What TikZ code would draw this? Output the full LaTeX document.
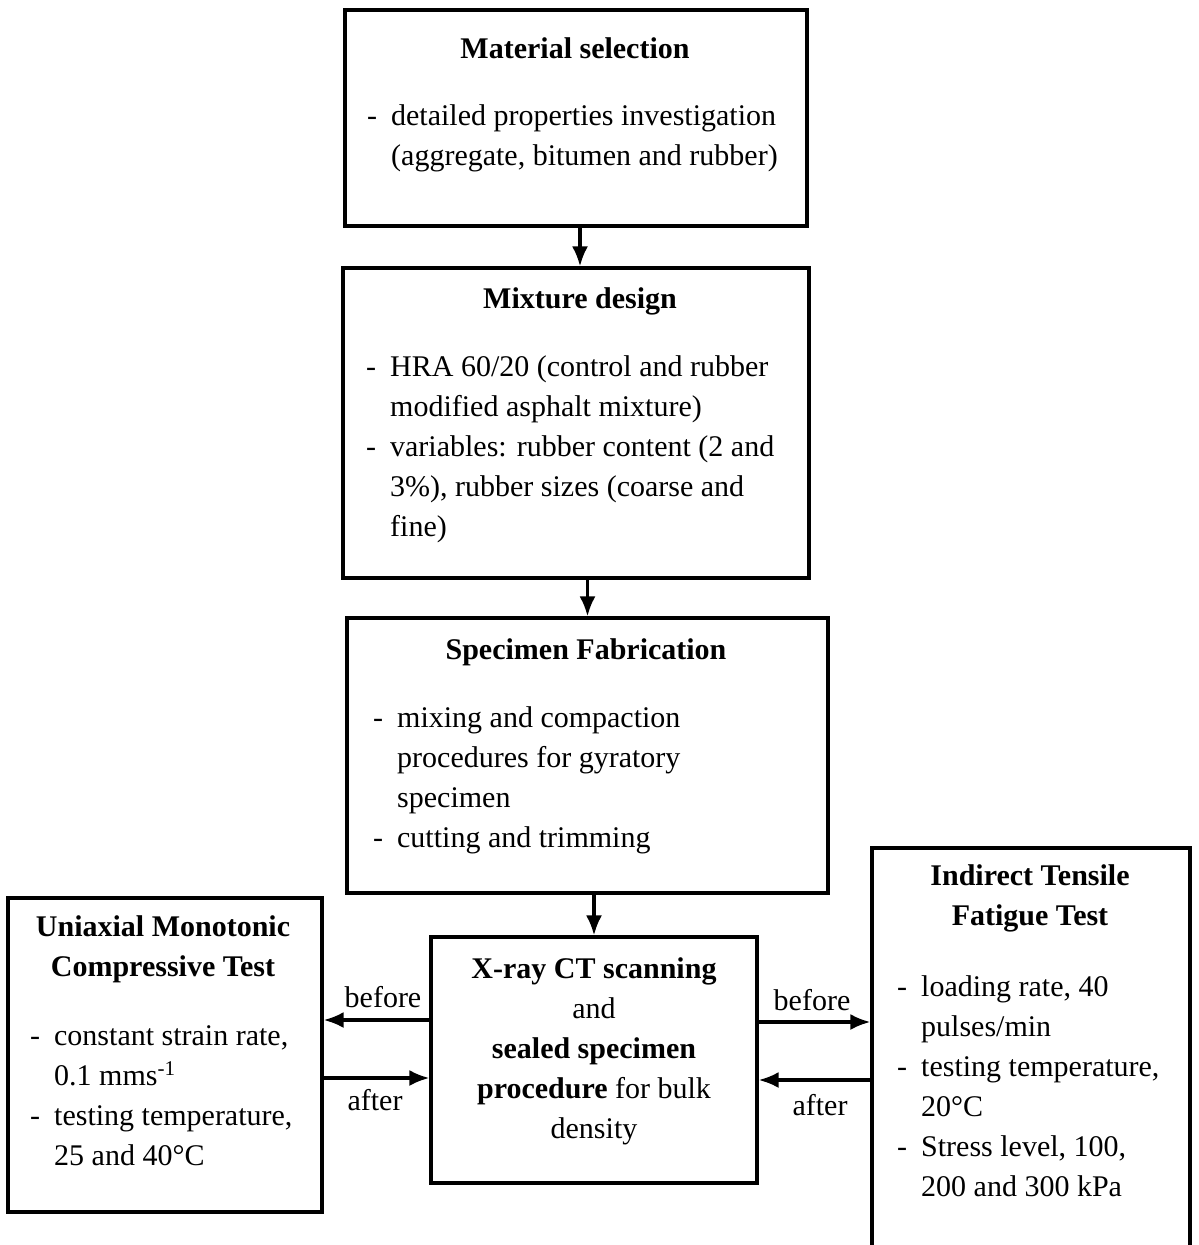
\documentclass[tikz,border=0pt]{standalone}
\usepackage{fontspec}
\setmainfont{Liberation Serif}
\usetikzlibrary{arrows.meta}
\newcommand{\itm}[1]{\makebox[24pt][l]{-}#1}
\newcommand{\cnt}[1]{\hspace*{24pt}#1}
\begin{document}
\begin{tikzpicture}[x=1pt,y=-1pt,
  box/.style={draw,line width=3.2pt,inner sep=0pt},
  arr/.style={line width=3.2pt,-{Latex[length=20pt,width=16pt]}},
  txt/.style={inner sep=0pt,font={\fontsize{30}{40}\selectfont},align=left,anchor=base west},
  ttl/.style={inner sep=0pt,font={\fontsize{30}{40}\selectfont\bfseries},align=center,anchor=base},
  lbl/.style={inner sep=0pt,font={\fontsize{30}{40}\selectfont}}]
\useasboundingbox (0,0) rectangle (1199,1245);
% boxes
\node[box,minimum width=462pt,minimum height=216pt] (ms) at (576,118) {};
\node[box,minimum width=466pt,minimum height=310pt] (md) at (576,423) {};
\node[box,minimum width=481pt,minimum height=275pt] (sf) at (587.5,755.5) {};
\node[box,minimum width=326pt,minimum height=246pt] (xr) at (594,1060) {};
\node[box,minimum width=314pt,minimum height=314pt] (um) at (165,1055) {};
\node[box,minimum width=318pt,minimum height=420pt] (it) at (1031,1058) {};
% texts (base anchor = baseline of last line)
\node[ttl] (t1) at (575,58) {Material selection};
\node[txt] (b1) at (367,165) {\itm{detailed properties investigation}\\\cnt{(aggregate, bitumen and rubber)}};
\node[ttl] (t2) at (580,308) {Mixture design};
\node[txt] (b2) at (366,536) {\itm{HRA 60/20 (control and rubber}\\\cnt{modified asphalt mixture)}\\\itm{variables: rubber content (2 and}\\\cnt{3\%), rubber sizes (coarse and}\\\cnt{fine)}};
\node[ttl] (t3) at (586,659) {Specimen Fabrication};
\node[txt] (b3) at (373,847) {\itm{mixing and compaction}\\\cnt{procedures for gyratory}\\\cnt{specimen}\\\itm{cutting and trimming}};
\node[ttl,font={\fontsize{30}{40}\selectfont}] (t4) at (594,1138) {\textbf{X-ray CT scanning}\\and\\\textbf{sealed specimen}\\\textbf{procedure} for bulk\\density};
\node[ttl] (t5) at (163,976) {Uniaxial Monotonic\\Compressive Test};
\node[txt] (b5) at (30,1165) {\itm{constant strain rate,}\\\cnt{0.1 mms\textsuperscript{-1}}\\\itm{testing temperature,}\\\cnt{25 and 40°C}};
\node[ttl] (t6) at (1030,925) {Indirect Tensile\\Fatigue Test};
\node[txt] (b6) at (897,1196) {\itm{loading rate, 40}\\\cnt{pulses/min}\\\itm{testing temperature,}\\\cnt{20°C}\\\itm{Stress level, 100,}\\\cnt{200 and 300 kPa}};
% vertical connectors
\draw[arr] (ms.south -| 580,0) -- (md.north -| 580,0);
\draw[arr] (md.south -| sf.north) -- (sf.north);
\draw[arr] (sf.south -| xr.north) -- (xr.north);
% horizontal connectors
\coordinate (lb) at ([yshift=40pt]xr.west);
\coordinate (la) at ([yshift=-18pt]xr.west);
\coordinate (rb) at ([yshift=38pt]xr.east);
\coordinate (ra) at ([yshift=-20pt]xr.east);
\draw[arr] (lb) -- (lb -| um.east);
\draw[arr] (la -| um.east) -- (la);
\draw[arr] (rb) -- (rb -| it.west);
\draw[arr] (ra -| it.west) -- (ra);
\node[lbl] (l1) at (383,997) {before};
\node[lbl] (l2) at (375,1100) {after};
\node[lbl] (l3) at (812,1000) {before};
\node[lbl] (l4) at (820,1105) {after};
\end{tikzpicture}
\end{document}
